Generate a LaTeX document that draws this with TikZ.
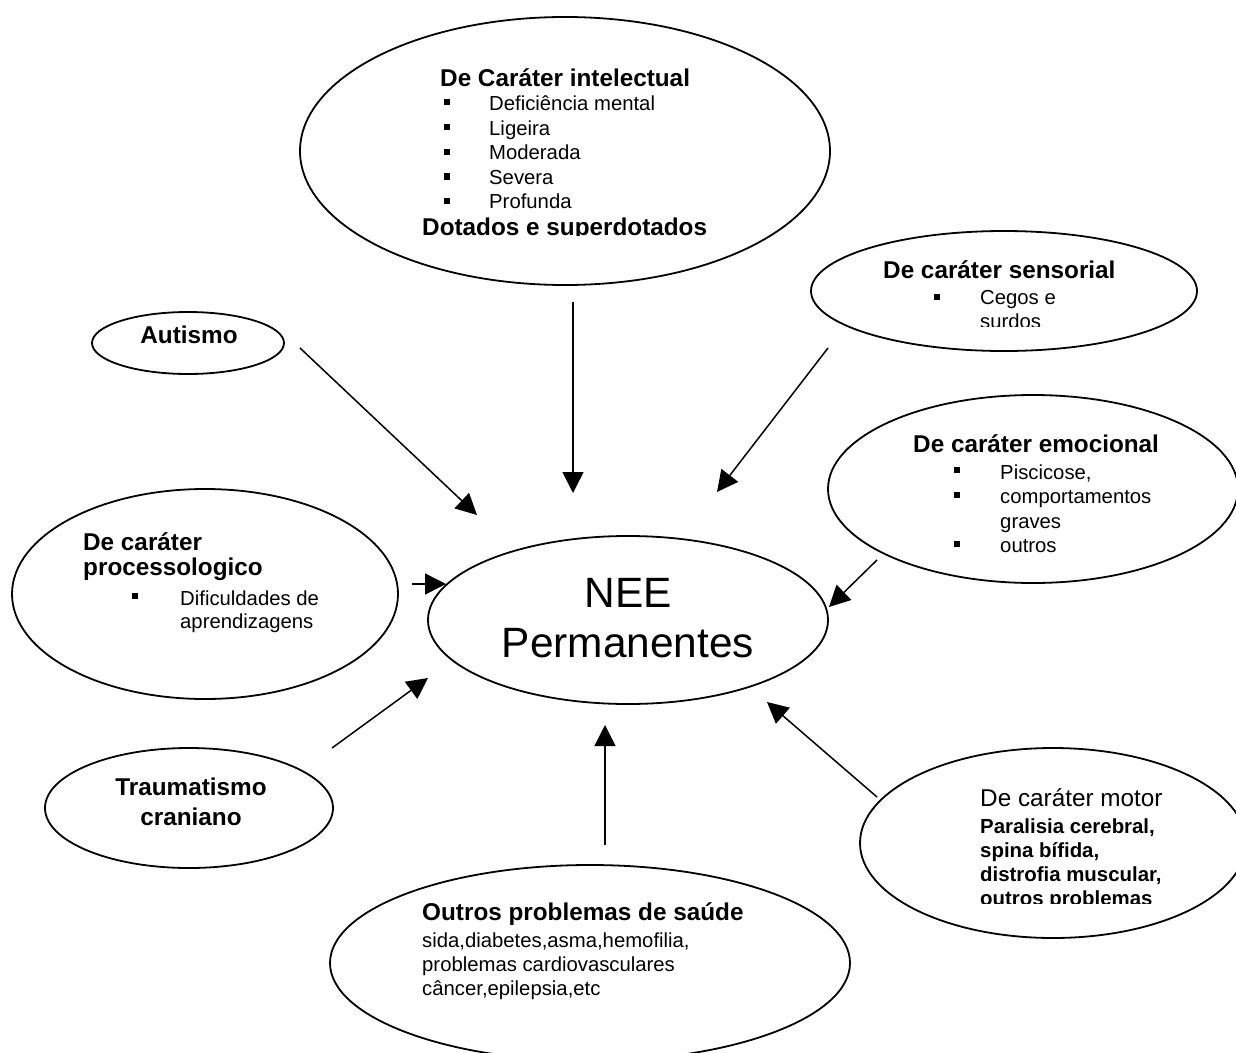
\documentclass[tikz,border=0pt]{standalone}
\usepackage{fontspec}
\setmainfont{Liberation Sans}
\usetikzlibrary{shapes.geometric,arrows.meta}
\begin{document}
\begin{tikzpicture}[x=1pt,y=-1pt,
  oval/.style={draw,ellipse,line width=1.8pt,inner sep=0pt},
  arr/.style={line width=1.5pt,-{Triangle[length=21pt,width=21pt]}},
  bt/.style={font=\fontsize{24.3}{29}\selectfont\bfseries,anchor=base west,inner sep=0pt},
  btc/.style={font=\fontsize{24.3}{29}\selectfont\bfseries,anchor=base,inner sep=0pt},
  it/.style={font=\fontsize{20.3}{24}\selectfont,anchor=base west,inner sep=0pt},
  ib/.style={font=\fontsize{20.4}{24}\selectfont\bfseries,anchor=base west,inner sep=0pt},
  bul/.style={fill,rectangle,minimum size=6.5pt,inner sep=0pt}]
\useasboundingbox (0,0) rectangle (1236,1052);
\fill[white] (0,0) rectangle (1236,1052);

% ---------- ellipses ----------
\node[oval,minimum width=530pt,minimum height=268pt] (intel) at (565,151) {};
\node[oval,minimum width=386pt,minimum height=120pt] (sens) at (1004,291) {};
\node[oval,minimum width=410pt,minimum height=188pt] (emoc) at (1033,489) {};
\node[oval,minimum width=386pt,minimum height=190pt] (motor) at (1053,843) {};
\node[oval,minimum width=520pt,minimum height=196pt] (saude) at (590,963) {};
\node[oval,minimum width=288pt,minimum height=120pt] (trauma) at (189,808) {};
\node[oval,minimum width=386pt,minimum height=210pt] (proc) at (205,594) {};
\node[oval,minimum width=192pt,minimum height=62pt] (aut) at (188,343) {};
\node[oval,minimum width=400pt,minimum height=168pt] (nee) at (628,620) {};

% ---------- texts: intelectual ----------
\node[bt] (t1) at (440,86) {De Caráter intelectual};
\node[bul] (b1a) at (447,102) {};
\node[bul] (b1b) at (447,127) {};
\node[bul] (b1c) at (447,152) {};
\node[bul] (b1d) at (447,176.5) {};
\node[bul] (b1e) at (447,201) {};
\node[it] (i1a) at (489,110.5) {Deficiência mental};
\node[it] (i1b) at (489,135) {Ligeira};
\node[it] (i1c) at (489,159.5) {Moderada};
\node[it] (i1d) at (489,184) {Severa};
\node[it] (i1e) at (489,208.5) {Profunda};
\begin{scope}
\clip (380,210) rectangle (760,235);
\node[bt] (t1b) at (422,235.5) {Dotados e superdotados};
\end{scope}

% ---------- sensorial ----------
\node[bt] (t2) at (883,278) {De caráter sensorial};
\node[bul] (b2) at (937,297) {};
\node[it] (i2a) at (980,304) {Cegos e};
\begin{scope}
\clip (960,305) rectangle (1100,326);
\node[it] (i2b) at (980,328) {surdos};
\end{scope}

% ---------- emocional ----------
\node[bt] (t3) at (913,452) {De caráter emocional};
\node[bul] (b3a) at (957,470) {};
\node[bul] (b3b) at (957,495) {};
\node[bul] (b3c) at (957,544) {};
\node[it] (i3a) at (1000,479) {Piscicose,};
\node[it] (i3b) at (1000,503.5) {comportamentos};
\node[it] (i3c) at (1000,528) {graves};
\node[it] (i3d) at (1000,552) {outros};

% ---------- motor ----------
\node[font=\fontsize{24.3}{29}\selectfont,anchor=base west,inner sep=0pt] (t4) at (980,806) {De caráter motor};
\node[ib] (i4a) at (980,833) {Paralisia cerebral,};
\node[ib] (i4b) at (980,857) {spina bífida,};
\node[ib] (i4c) at (980,881) {distrofia muscular,};
\begin{scope}
\clip (960,885) rectangle (1200,903);
\node[ib] (i4d) at (980,905) {outros problemas};
\end{scope}

% ---------- outros problemas de saude ----------
\node[bt] (t5) at (422,920) {Outros problemas de saúde};
\node[it] (i5a) at (422,947) {sida,diabetes,asma,hemofilia,};
\node[it] (i5b) at (422,971) {problemas cardiovasculares};
\node[it] (i5c) at (422,995) {câncer,epilepsia,etc};

% ---------- traumatismo ----------
\node[btc] (t6a) at (191,795) {Traumatismo};
\node[btc] (t6b) at (191,825) {craniano};

% ---------- processologico ----------
\node[bt] (t7a) at (83,550) {De caráter};
\node[bt] (t7b) at (83,575) {processologico};
\node[bul] (b7) at (135,596) {};
\node[it] (i7a) at (180,605) {Dificuldades de};
\node[it] (i7b) at (180,628) {aprendizagens};

% ---------- autismo ----------
\node[btc] (t8) at (189,343) {Autismo};

% ---------- NEE ----------
\node[font=\fontsize{42.4}{50}\selectfont,anchor=base,inner sep=0pt] (n1) at (628,607) {NEE};
\node[font=\fontsize{42.4}{50}\selectfont,anchor=base,inner sep=0pt] (n2) at (628,657) {Permanentes};

% ---------- connector end points ----------
\coordinate (cIntS) at (573,302);
\coordinate (cIntE) at (573,493);
\coordinate (cSenS) at (828,348);
\coordinate (cSenE) at (717,492);
\coordinate (cAutS) at (300,348);
\coordinate (cAutE) at (477,515);
\coordinate (cEmoS) at (877,560);
\coordinate (cEmoE) at (829,607);
\coordinate (cProS) at (412,584);
\coordinate (cProE) at (446,584);
\coordinate (cTraS) at (332,748);
\coordinate (cTraE) at (428,678);
\coordinate (cSauS) at (605,845);
\coordinate (cSauE) at (605,725);
\coordinate (cMotS) at (877,797);
\coordinate (cMotE) at (767,702);

\draw[arr] (cIntS) -- (cIntE);
\draw[arr] (cSenS) -- (cSenE);
\draw[arr] (cAutS) -- (cAutE);
\draw[arr] (cEmoS) -- (cEmoE);
\draw[arr] (cProS) -- (cProE);
\draw[arr] (cTraS) -- (cTraE);
\draw[arr] (cSauS) -- (cSauE);
\draw[arr] (cMotS) -- (cMotE);
\end{tikzpicture}
\end{document}
